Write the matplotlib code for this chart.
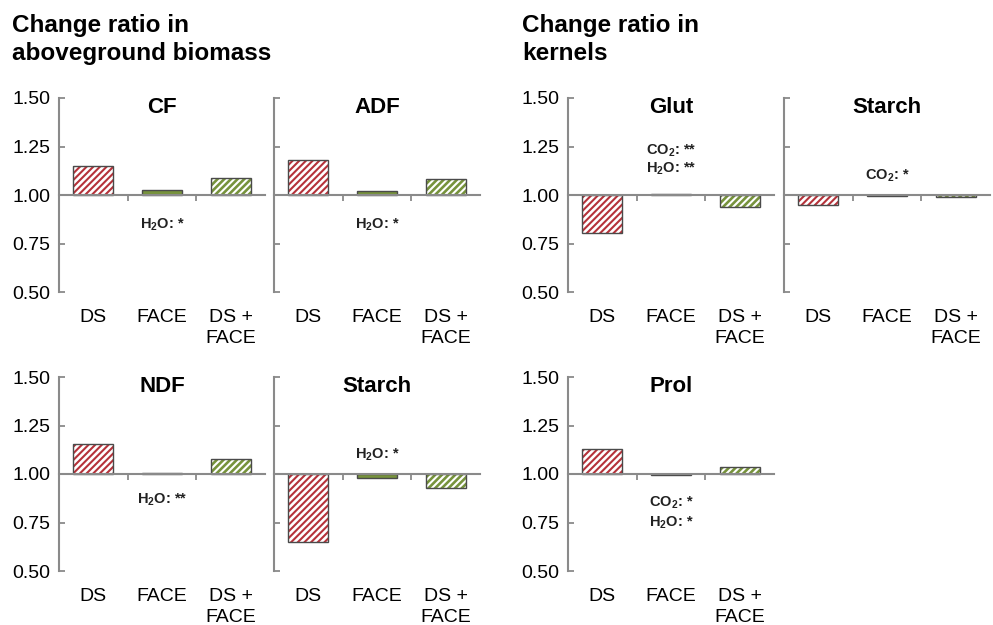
import numpy as np
import matplotlib
matplotlib.use('Agg')
import matplotlib.pyplot as plt

# categories and change ratios
categories = ['DS', 'FACE', 'DS +\nFACE']

cf = [1.150, 1.025, 1.087]
adf = [1.180, 1.022, 1.084]
ndf = [1.155, 1.005, 1.079]
starch_bio = [0.650, 0.978, 0.930]
glut = [0.804, 1.005, 0.937]
starch_kern = [0.950, 0.997, 0.990]
prol = [1.127, 0.995, 1.038]

# significance notes for the FACE bar
notes_cf = ['H$_2$O: *']
notes_adf = ['H$_2$O: *']
notes_ndf = ['H$_2$O: **']
notes_starch_bio = ['H$_2$O: *']
notes_glut = ['CO$_2$: **', 'H$_2$O: **']
notes_starch_kern = ['CO$_2$: *']
notes_prol = ['CO$_2$: *', 'H$_2$O: *']

plt.rcParams['font.family'] = ['Liberation Sans', 'DejaVu Sans']
plt.rcParams['hatch.linewidth'] = 1.5
plt.rcParams['mathtext.fontset'] = 'custom'
plt.rcParams['mathtext.rm'] = 'Liberation Sans:bold'
plt.rcParams['mathtext.default'] = 'rm'

RED = '#b5323a'
GREEN = '#77933c'
EDGE = '#4a4a4a'
AXC = '#8a8a8a'

fig = plt.figure(figsize=(9.93, 6.25), dpi=100)
W, H = 0.2075, 0.3104


def draw_panel(left, bottom, title, vals, notes, note_y, ylabels):
    ax = fig.add_axes([left, bottom, W, H])
    x = np.arange(1, 4)
    d = np.array(vals) - 1.0
    bw = 0.58
    # DS: white with red stripes
    ax.bar(x[0], d[0], bottom=1.0, width=bw, color='white', edgecolor=RED,
           hatch='/////', linewidth=0, zorder=2)
    # FACE: solid green
    ax.bar(x[1], d[1], bottom=1.0, width=bw, color=GREEN, linewidth=0, zorder=2)
    # DS + FACE: green with white stripes
    ax.bar(x[2], d[2], bottom=1.0, width=bw, color=GREEN, edgecolor='white',
           hatch='/////', linewidth=0, zorder=2)
    ax.bar(x, d, bottom=1.0, width=bw, facecolor='none', edgecolor=EDGE,
           linewidth=1.0, zorder=3)

    ax.set_xlim(0.5, 3.5)
    ax.set_ylim(0.5, 1.5)
    for s in ['top', 'right']:
        ax.spines[s].set_visible(False)
    ax.spines['bottom'].set_position(('data', 1.0))
    for s in ['left', 'bottom']:
        ax.spines[s].set_color(AXC)
        ax.spines[s].set_linewidth(1.5)
    ax.spines['bottom'].set_zorder(4)

    ax.set_xticks([1.5, 2.5])
    ax.set_xticklabels([])
    ax.tick_params(axis='x', direction='out', length=4, width=1.3, color=AXC)
    ax.set_yticks([0.5, 0.75, 1.0, 1.25, 1.5])
    ax.tick_params(axis='y', direction='in', length=4, width=1.3, color=AXC,
                   labelsize=14, pad=6)
    if ylabels:
        ax.set_yticklabels(['0.50', '0.75', '1.00', '1.25', '1.50'])
    else:
        ax.set_yticklabels([])

    tr = ax.get_xaxis_transform()
    for xi, lab in zip(x, categories):
        ax.text(xi, -0.09, lab, transform=tr, ha='center', va='top',
                fontsize=14, linespacing=1.3)

    ax.text(0.5, 0.95, title, transform=ax.transAxes, ha='center',
            va='center', fontsize=16, fontweight='bold')

    for txt, yy in zip(notes, note_y):
        ax.text(2, yy, txt, ha='center', va='center', fontsize=10.5,
                fontweight='bold', color='#222222')
    return ax


top_b = 1 - 292 / 625
bot_b = 1 - 571 / 625
c1, c2, c3, c4 = 59 / 993, 274 / 993, 568 / 993, 784 / 993

draw_panel(c1, top_b, 'CF', cf, notes_cf, [0.845], True)
draw_panel(c2, top_b, 'ADF', adf, notes_adf, [0.845], False)
draw_panel(c3, top_b, 'Glut', glut, notes_glut, [1.227, 1.134], True)
draw_panel(c4, top_b, 'Starch', starch_kern, notes_starch_kern, [1.10], False)
draw_panel(c1, bot_b, 'NDF', ndf, notes_ndf, [0.866], True)
draw_panel(c2, bot_b, 'Starch', starch_bio, notes_starch_bio, [1.098], False)
draw_panel(c3, bot_b, 'Prol', prol, notes_prol, [0.849, 0.746], True)

fig.text(12 / 993, 1 - 14 / 625, 'Change ratio in\naboveground biomass',
         ha='left', va='top', fontsize=17.5, fontweight='bold', linespacing=1.3)
fig.text(522 / 993, 1 - 14 / 625, 'Change ratio in\nkernels',
         ha='left', va='top', fontsize=17.5, fontweight='bold', linespacing=1.3)

fig.savefig('out.png', dpi=100)
